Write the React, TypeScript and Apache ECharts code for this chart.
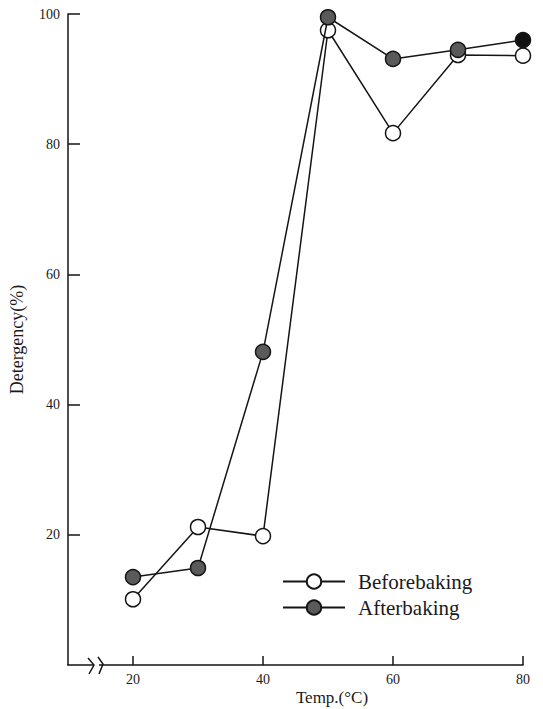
import React, { useEffect, useRef } from "react";
import * as echarts from "echarts";

const temps = [20, 30, 40, 50, 60, 70, 80];
const beforeBaking = [10.1, 21.2, 19.8, 97.5, 81.7, 93.7, 93.6];
const afterBaking = [13.5, 14.9, 48.1, 99.5, 93.1, 94.5, 96.0];
const xTicks = [20, 40, 60, 80];
const yTicks = [20, 40, 60, 80, 100];

const serif = "Liberation Serif";

export default function App() {
  const ref = useRef<HTMLDivElement>(null);
  useEffect(() => {
    if (!ref.current) return;
    const chart = echarts.init(ref.current, null, { renderer: "svg" });
    const ink = "#151515";
    chart.setOption({
      animation: false,
      backgroundColor: "#ffffff",
      grid: { left: 65, right: 20, top: 14, bottom: 44, containLabel: false },
      xAxis: {
        type: "value",
        min: 10,
        max: 80,
        splitLine: { show: false },
        axisLine: { show: true, lineStyle: { color: ink, width: 1.5 } },
        axisTick: { show: true, inside: true, length: 9, customValues: xTicks, lineStyle: { color: ink, width: 1.5 } },
        axisLabel: { customValues: xTicks, fontFamily: serif, fontSize: 14, color: "#1a1a1a", margin: 7 },
      },
      yAxis: {
        type: "value",
        min: 0,
        max: 100,
        splitLine: { show: false },
        axisLine: { show: true, lineStyle: { color: ink, width: 1.5 } },
        axisTick: { show: true, inside: true, length: 12, customValues: yTicks, lineStyle: { color: ink, width: 1.5 } },
        axisLabel: { customValues: yTicks, fontFamily: serif, fontSize: 14, color: "#1a1a1a", margin: 8 },
        name: "Detergency(%)",
        nameLocation: "middle",
        nameGap: 42,
        nameRotate: 90,
        nameTextStyle: { fontFamily: serif, fontSize: 18, color: "#1a1a1a" },
      },
      legend: {
        orient: "vertical",
        left: 277,
        top: 566,
        itemWidth: 62,
        itemHeight: 18,
        itemGap: 5,
        textStyle: { fontFamily: serif, fontSize: 21, color: "#1a1a1a", padding: [0, 0, 0, 8] },
        data: ["Beforebaking", "Afterbaking"],
      },
      series: [
        {
          name: "Beforebaking",
          type: "line",
          data: temps.map((t, i) => [t, beforeBaking[i]]),
          symbol: "circle",
          symbolSize: 15,
          itemStyle: { color: "#ffffff", borderColor: ink, borderWidth: 1.5 },
          lineStyle: { color: ink, width: 1.5 },
          z: 3,
        },
        {
          name: "Afterbaking",
          type: "line",
          data: temps.map((t, i) =>
            i === temps.length - 1
              ? { value: [t, afterBaking[i]], itemStyle: { color: "#111111" } }
              : [t, afterBaking[i]]
          ),
          symbol: "circle",
          symbolSize: 15,
          itemStyle: { color: "#5a5a5a", borderColor: ink, borderWidth: 1.5 },
          lineStyle: { color: ink, width: 1.5 },
          z: 4,
        },
      ],
      graphic: [
        { type: "rect", shape: { x: 93, y: 660, width: 6, height: 10 }, style: { fill: "#ffffff" }, z: 100 },
        {
          type: "polyline",
          shape: { points: [[88, 658], [94, 665], [89, 674]] },
          style: { stroke: ink, lineWidth: 1.5, fill: "none" },
          z: 101,
        },
        {
          type: "polyline",
          shape: { points: [[98, 657], [103, 664], [99, 674]] },
          style: { stroke: ink, lineWidth: 1.5, fill: "none" },
          z: 101,
        },
        {
          type: "text",
          x: 332,
          y: 697,
          style: { text: "Temp.(°C)", fontFamily: serif, fontSize: 17, fill: "#1a1a1a", textAlign: "center", textVerticalAlign: "middle" },
        },
      ],
    });
    return () => chart.dispose();
  }, []);
  return <div ref={ref} style={{ position: "absolute", left: 0, top: 0, width: 543, height: 709 }} />;
}
